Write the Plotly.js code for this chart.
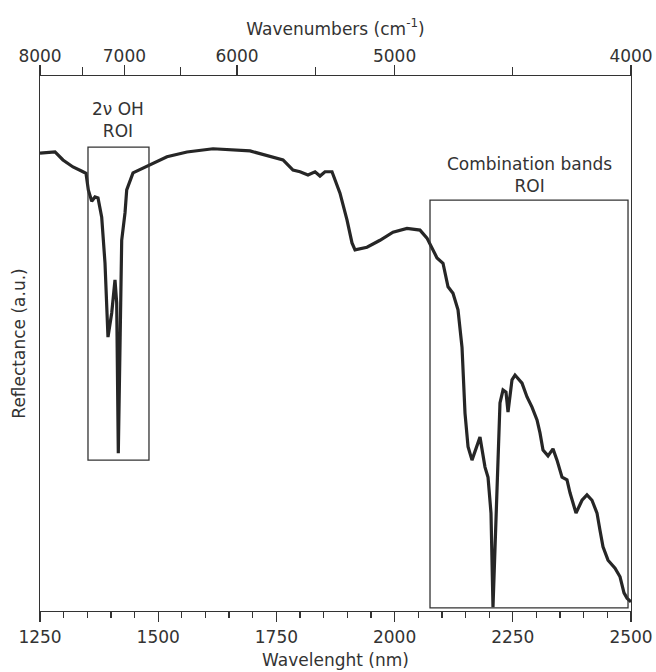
<!DOCTYPE html>
<html>
<head>
<meta charset="utf-8">
<script src="https://cdn.plot.ly/plotly-3.0.1.min.js"></script>
<style>html,body{margin:0;padding:0;background:#fff;}#chart{width:656px;height:672px;}</style>
</head>
<body>
<div id="chart"></div>
<script>
// Wavelength (nm)
const wavelength = [1250,1281.7,1298.6,1319.8,1338.8,1347.3,1352.2,1359.4,1366.3,1372.7,1380.5,1387.5,1393.8,1401.7,1408.6,1412.2,1415.6,1419.2,1422.8,1429.8,1433.4,1446.7,1467.9,1497.5,1518.6,1560.9,1615.9,1694.2,1764.0,1785.1,1799.9,1816.8,1831.7,1842.2,1852.8,1867.6,1884.5,1899.3,1909.9,1916.3,1941.6,1969.1,1996.6,2026.2,2053.7,2068.5,2081.2,2089.7,2102.4,2113.0,2123.5,2134.1,2142.6,2148.9,2155.3,2163.7,2180.6,2191.2,2197.6,2203.9,2208.1,2216.6,2222.9,2229.3,2235.6,2239.9,2248.3,2254.7,2269.5,2280.1,2290.6,2301.2,2307.5,2313.9,2324.5,2335.0,2343.5,2354.1,2364.6,2371.0,2383.7,2396.4,2406.9,2417.5,2428.1,2434.4,2440.8,2451.4,2466.2,2476.8,2485.2,2491.6,2500];
// Reflectance (a.u.)
const reflectance = [0.856,0.858,0.843,0.830,0.822,0.818,0.787,0.766,0.774,0.772,0.736,0.650,0.512,0.557,0.619,0.576,0.295,0.464,0.693,0.744,0.787,0.819,0.828,0.839,0.849,0.858,0.864,0.860,0.843,0.824,0.821,0.815,0.821,0.813,0.821,0.821,0.781,0.731,0.688,0.675,0.680,0.693,0.708,0.715,0.712,0.697,0.675,0.660,0.650,0.606,0.594,0.563,0.493,0.370,0.307,0.282,0.325,0.269,0.250,0.183,0.007,0.245,0.389,0.413,0.409,0.372,0.432,0.441,0.426,0.400,0.381,0.357,0.333,0.301,0.290,0.303,0.282,0.250,0.245,0.221,0.183,0.207,0.217,0.207,0.183,0.151,0.120,0.095,0.080,0.064,0.034,0.024,0.017];

// Top axis: wavenumber labels (cm-1) placed at corresponding wavelengths
const wavenumberLabels = ['8000','7000','6000','5000','4000'];
const wavenumberValues = [8000,7000,6000,5000,4000];
const topMinorWl = [1339.3,1547.6,1833.3,2250];

// ROI boxes [x0, x1, y0, y1]
const roiOH = [1351.5,1480.5,0.282,0.867];
const roiComb = [2074.9,2493.7,0.006,0.768];

const FONT = '"DejaVu Sans",sans-serif';
const FS = 17;
const TXT = '#333';
const LINE = '#333';

const topTickVals = wavenumberValues.map(v => 1e7 / v);

const traces = [
  {x: wavelength, y: reflectance, type: 'scatter', mode: 'lines',
   line: {color: '#262626', width: 3.2}, hoverinfo: 'x+y', showlegend: false},
  {x: wavelength, y: reflectance, type: 'scatter', mode: 'lines', xaxis: 'x2',
   line: {color: 'rgba(0,0,0,0)', width: 0}, hoverinfo: 'skip', showlegend: false}
];

function box(r) {
  return {type: 'rect', xref: 'x', yref: 'y', x0: r[0], x1: r[1], y0: r[2], y1: r[3],
          line: {color: LINE, width: 1.3}, fillcolor: 'rgba(0,0,0,0)'};
}

const layout = {
  width: 656, height: 672,
  margin: {l: 40, r: 25, t: 76, b: 61},
  paper_bgcolor: '#fff', plot_bgcolor: '#fff',
  font: {family: FONT, size: FS, color: TXT},
  showlegend: false,
  xaxis: {
    range: [1250, 2500], tickmode: 'linear', tick0: 1250, dtick: 250,
    ticks: 'outside', ticklen: 10, tickwidth: 1.3, tickcolor: LINE,
    minor: {tickmode: 'linear', tick0: 1250, dtick: 50, ticks: 'outside', ticklen: 6, tickwidth: 1.3, tickcolor: LINE, showgrid: false},
    showline: true, linecolor: LINE, linewidth: 1.3, mirror: false,
    showgrid: false, zeroline: false,
    tickfont: {family: FONT, size: FS, color: TXT},
    title: {text: 'Wavelenght (nm)', font: {family: FONT, size: FS, color: TXT}, standoff: 8}
  },
  xaxis2: {
    overlaying: 'x', side: 'top', anchor: 'y', matches: 'x',
    range: [1250, 2500], tickmode: 'array', tickvals: topTickVals, ticktext: wavenumberLabels,
    ticks: 'outside', ticklen: 10, tickwidth: 1.3, tickcolor: LINE, ticklabelstandoff: -4,
    minor: {tickmode: 'array', tickvals: topMinorWl, ticks: 'outside', ticklen: 8, tickwidth: 1.3, tickcolor: LINE, showgrid: false},
    showline: true, linecolor: LINE, linewidth: 1.3,
    showgrid: false, zeroline: false,
    tickfont: {family: FONT, size: FS, color: TXT},
    title: {text: 'Wavenumbers (cm<sup>-1</sup>)', font: {family: FONT, size: FS, color: TXT}, standoff: 6}
  },
  yaxis: {
    range: [0, 1], showticklabels: false, ticks: '',
    showline: true, linecolor: LINE, linewidth: 1.3, mirror: true,
    showgrid: false, zeroline: false,
    title: {text: 'Reflectance (a.u.)', font: {family: FONT, size: FS, color: TXT}, standoff: 8}
  },
  shapes: [box(roiOH), box(roiComb)],
  annotations: [
    {xref: 'x', yref: 'y', x: (roiOH[0] + roiOH[1]) / 2, y: roiOH[3], yanchor: 'bottom', yshift: 4,
     text: '2ν OH<br>ROI', showarrow: false, align: 'center', font: {family: FONT, size: FS, color: TXT}},
    {xref: 'x', yref: 'y', x: (roiComb[0] + roiComb[1]) / 2, y: roiComb[3], yanchor: 'bottom', yshift: 2,
     text: 'Combination bands<br>ROI', showarrow: false, align: 'center', font: {family: FONT, size: FS, color: TXT}}
  ]
};

Plotly.newPlot('chart', traces, layout, {staticPlot: true, displayModeBar: false});
</script>
</body>
</html>
